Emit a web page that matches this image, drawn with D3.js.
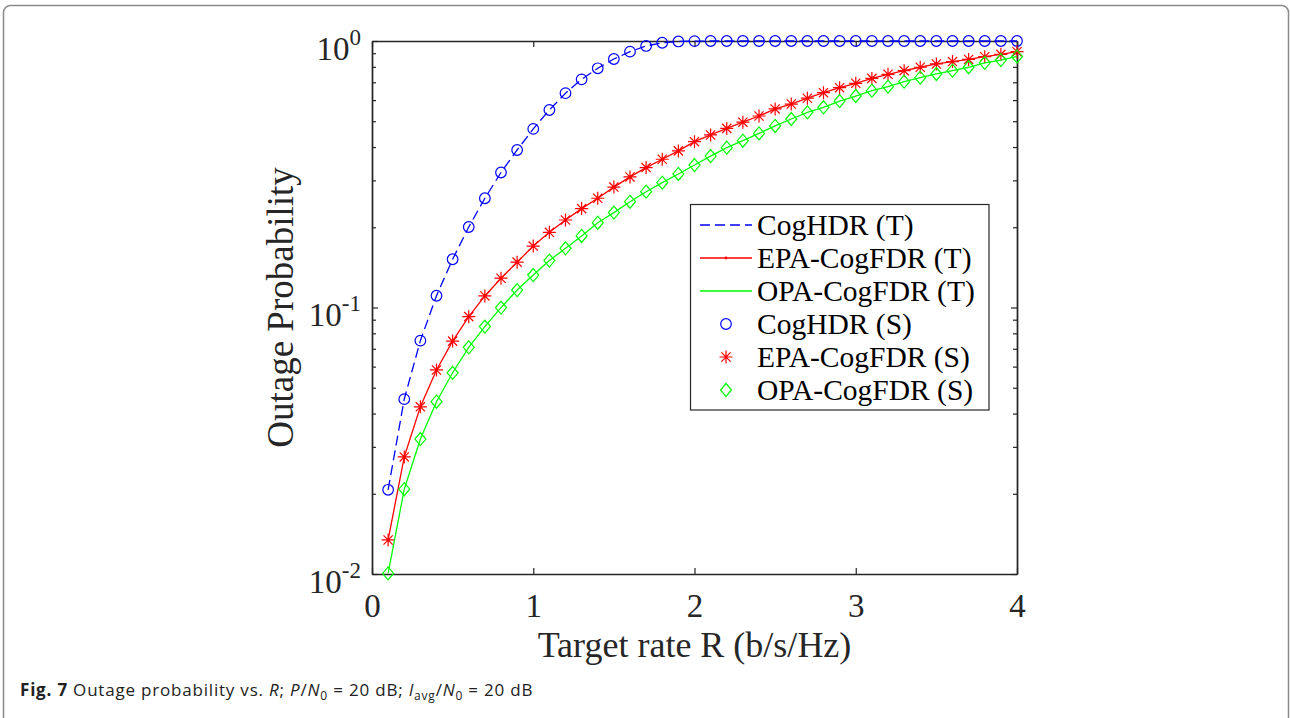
<!DOCTYPE html>
<html>
<head>
<meta charset="utf-8">
<script src="https://cdn.jsdelivr.net/npm/d3@7"></script>
<style>
  body { margin: 0; background: #fff; }
  svg { display: block; }
</style>
</head>
<body>
<div id="vis"></div>
<script>
// target rate R (b/s/Hz)
const rates = [0.1, 0.2, 0.3, 0.4, 0.5, 0.6, 0.7, 0.8, 0.9, 1.0,
               1.1, 1.2, 1.3, 1.4, 1.5, 1.6, 1.7, 1.8, 1.9, 2.0,
               2.1, 2.2, 2.3, 2.4, 2.5, 2.6, 2.7, 2.8, 2.9, 3.0,
               3.1, 3.2, 3.3, 3.4, 3.5, 3.6, 3.7, 3.8, 3.9, 4.0];

const cogHDR = [0.0207, 0.0453, 0.0751, 0.1107, 0.1517, 0.2005, 0.257, 0.321, 0.390, 0.468,
                0.551, 0.637, 0.718, 0.790, 0.856, 0.912, 0.958, 0.985, 0.996, 0.999,
                1, 1, 1, 1, 1, 1, 1, 1, 1, 1,
                1, 1, 1, 1, 1, 1, 1, 1, 1, 1];

const epaCogFDR = [0.01342, 0.0275, 0.0424, 0.0583, 0.0748, 0.0924, 0.1105, 0.1288, 0.148, 0.170,
                   0.1915, 0.213, 0.235, 0.257, 0.283, 0.309, 0.335, 0.360, 0.387, 0.419,
                   0.444, 0.470, 0.496, 0.523, 0.556, 0.580, 0.610, 0.640, 0.668, 0.694,
                   0.724, 0.750, 0.774, 0.797, 0.820, 0.837, 0.853, 0.873, 0.891, 0.912];

const opaCogFDR = [0.01005, 0.0208, 0.0321, 0.0443, 0.0569, 0.0709, 0.0848, 0.0999, 0.1163, 0.1324,
                   0.150, 0.1668, 0.1855, 0.208, 0.227, 0.2494, 0.272, 0.294, 0.317, 0.3425,
                   0.370, 0.398, 0.4225, 0.450, 0.480, 0.5097, 0.540, 0.564, 0.5953, 0.6217,
                   0.651, 0.674, 0.7036, 0.7286, 0.752, 0.774, 0.797, 0.828, 0.848, 0.875];

const xTicks = [0, 1, 2, 3, 4];
const yTicks = [0.01, 0.1, 1];
const yTickExp = ["-2", "-1", "0"];
const legendNames = ["CogHDR (T)", "EPA-CogFDR (T)", "OPA-CogFDR (T)",
                     "CogHDR (S)", "EPA-CogFDR (S)", "OPA-CogFDR (S)"];

const width = 1290, height = 718;
const margin = { top: 41, right: 273, bottom: 144, left: 372 };
const axisColor = "#262626";
const serif = "'Liberation Serif', 'Times New Roman', serif";

const svg = d3.select("#vis").append("svg")
  .attr("width", width)
  .attr("height", height)
  .attr("viewBox", [0, 0, width, height]);

// figure frame
svg.append("rect")
  .attr("x", 3.5).attr("y", 5.5)
  .attr("width", 1285).attr("height", 730)
  .attr("rx", 7)
  .attr("fill", "none")
  .attr("stroke", "#8a8a8a")
  .attr("stroke-width", 1.5);

const x = d3.scaleLinear([0, 4], [margin.left, width - margin.right]);
const y = d3.scaleLog([0.01, 1], [height - margin.bottom, margin.top]);

const minorTicks = [];
[0.01, 0.1].forEach(d => { for (let m = 2; m <= 9; m++) minorTicks.push(d * m); });

// axes (MATLAB style: box, ticks inside)
const gx = svg.append("g")
  .attr("transform", `translate(0,${y(0.01)})`)
  .call(d3.axisBottom(x).tickValues(xTicks).tickFormat(d3.format("d"))
    .tickSizeInner(-6).tickSizeOuter(0).tickPadding(19));
const gxTop = svg.append("g")
  .attr("transform", `translate(0,${y(1)})`)
  .call(d3.axisTop(x).tickValues(xTicks).tickFormat("")
    .tickSizeInner(-6).tickSizeOuter(0));

const gy = svg.append("g")
  .attr("transform", `translate(${x(0)},0)`)
  .call(d3.axisLeft(y).tickValues(yTicks).tickFormat("")
    .tickSizeInner(-6).tickSizeOuter(0).tickPadding(11));
const gyMinor = svg.append("g")
  .attr("transform", `translate(${x(0)},0)`)
  .call(d3.axisLeft(y).tickValues(minorTicks).tickFormat("")
    .tickSizeInner(-4).tickSizeOuter(0));
const gyRight = svg.append("g")
  .attr("transform", `translate(${x(4)},0)`)
  .call(d3.axisRight(y).tickValues(yTicks).tickFormat("")
    .tickSizeInner(-6).tickSizeOuter(0));
const gyRightMinor = svg.append("g")
  .attr("transform", `translate(${x(4)},0)`)
  .call(d3.axisRight(y).tickValues(minorTicks).tickFormat("")
    .tickSizeInner(-4).tickSizeOuter(0));

[gx, gxTop, gy, gyMinor, gyRight, gyRightMinor].forEach(g => {
  g.selectAll(".domain").attr("stroke", axisColor).attr("stroke-width", 1.4);
  g.selectAll(".tick line").attr("stroke", axisColor).attr("stroke-width", 1.2);
});

gx.selectAll(".tick text")
  .attr("dy", 0).attr("y", 42.5)
  .style("font-family", serif).style("font-size", "33px").attr("fill", axisColor);

// y tick labels 10^k
gy.selectAll(".tick text").each(function(d, i) {
  const t = d3.select(this)
    .attr("dy", null).attr("y", 18)
    .style("font-family", serif).style("font-size", "33px").attr("fill", axisColor);
  t.append("tspan").text("10");
  t.append("tspan").attr("dy", -15).style("font-size", "23px").text(yTickExp[i]);
});

// axis titles
svg.append("text")
  .attr("x", (x(0) + x(4)) / 2).attr("y", 657)
  .attr("text-anchor", "middle")
  .style("font-family", serif).style("font-size", "36px").attr("fill", axisColor)
  .text("Target rate R (b/s/Hz)");

svg.append("text")
  .attr("transform", `translate(293,${(y(0.01) + y(1)) / 2}) rotate(-90)`)
  .attr("text-anchor", "middle")
  .style("font-family", serif).style("font-size", "37px").attr("fill", axisColor)
  .text("Outage Probability");

// markers
const blue = "#0000ff", red = "#ff0000", green = "#00ff00";
const asterisk = "M-6.5,0H6.5M0,-6.5V6.5M-4.6,-4.6L4.6,4.6M-4.6,4.6L4.6,-4.6";
const diamond = "M0,-6.5L5.5,0L0,6.5L-5.5,0Z";

const series = [
  { values: cogHDR, color: blue, dash: "10,5", marker: "circle" },
  { values: epaCogFDR, color: red, dash: null, marker: "asterisk" },
  { values: opaCogFDR, color: green, dash: null, marker: "diamond" }
];

const line = d3.line().x(d => x(d[0])).y(d => y(d[1]));
const plot = svg.append("g");

series.forEach(s => {
  const pts = rates.map((r, i) => [r, s.values[i]]);
  plot.append("path")
    .datum(pts)
    .attr("d", line)
    .attr("fill", "none")
    .attr("stroke", s.color)
    .attr("stroke-width", 1.3)
    .attr("stroke-dasharray", s.dash);

  const g = plot.append("g");
  if (s.marker === "circle") {
    g.selectAll("circle").data(pts).join("circle")
      .attr("cx", d => x(d[0])).attr("cy", d => y(d[1])).attr("r", 5.3)
      .attr("fill", "none").attr("stroke", s.color).attr("stroke-width", 1.2);
  } else {
    if (s.marker === "asterisk") {
      g.selectAll("circle").data(pts).join("circle")
        .attr("cx", d => x(d[0])).attr("cy", d => y(d[1])).attr("r", 1.4)
        .attr("fill", s.color);
    }
    g.selectAll("path").data(pts).join("path")
      .attr("transform", d => `translate(${x(d[0])},${y(d[1])})`)
      .attr("d", s.marker === "asterisk" ? asterisk : diamond)
      .attr("fill", "none").attr("stroke", s.color).attr("stroke-width", 1.2);
  }
});

// legend
const legend = svg.append("g");
legend.append("rect")
  .attr("x", 690.5).attr("y", 204.5).attr("width", 298.5).attr("height", 205.5)
  .attr("fill", "#fff").attr("stroke", axisColor).attr("stroke-width", 1.2);

const rowY = d3.scaleLinear([0, 5], [225, 390]);
legendNames.forEach((name, i) => {
  const cy = rowY(i);
  const s = series[i % 3];
  if (i < 3) {
    legend.append("line")
      .attr("x1", 700).attr("x2", 752).attr("y1", cy).attr("y2", cy)
      .attr("stroke", s.color).attr("stroke-width", 1.3)
      .attr("stroke-dasharray", s.dash);
    if (i === 1) legend.append("circle").attr("cx", 726).attr("cy", cy).attr("r", 1.4).attr("fill", s.color);
  } else if (s.marker === "circle") {
    legend.append("circle").attr("cx", 726).attr("cy", cy).attr("r", 5.3)
      .attr("fill", "none").attr("stroke", s.color).attr("stroke-width", 1.2);
  } else {
    legend.append("path").attr("transform", `translate(726,${cy})`)
      .attr("d", s.marker === "asterisk" ? asterisk : diamond)
      .attr("fill", "none").attr("stroke", s.color).attr("stroke-width", 1.2);
  }
  legend.append("text")
    .attr("x", 757).attr("y", cy + 10)
    .style("font-family", serif).style("font-size", "29.5px").attr("fill", "#000")
    .text(name);
});

// caption
const cap = svg.append("text")
  .attr("x", 20).attr("y", 696)
  .style("font-family", "'Open Sans', 'Noto Sans', sans-serif")
  .style("font-size", "17px").style("letter-spacing", "0.8px").attr("fill", "#222");
cap.append("tspan").style("font-weight", "bold").text("Fig. 7");
cap.append("tspan").text(" Outage probability vs. ");
cap.append("tspan").style("font-style", "italic").text("R");
cap.append("tspan").text("; ");
cap.append("tspan").style("font-style", "italic").text("P");
cap.append("tspan").text("/");
cap.append("tspan").style("font-style", "italic").text("N");
cap.append("tspan").attr("dy", 3.5).style("font-size", "12px").text("0");
cap.append("tspan").attr("dy", -3.5).text(" = 20 dB; ");
cap.append("tspan").style("font-style", "italic").text("I");
cap.append("tspan").attr("dy", 3.5).style("font-size", "12px").text("avg");
cap.append("tspan").attr("dy", -3.5).text("/");
cap.append("tspan").style("font-style", "italic").text("N");
cap.append("tspan").attr("dy", 3.5).style("font-size", "12px").text("0");
cap.append("tspan").attr("dy", -3.5).text(" = 20 dB");
</script>
</body>
</html>
